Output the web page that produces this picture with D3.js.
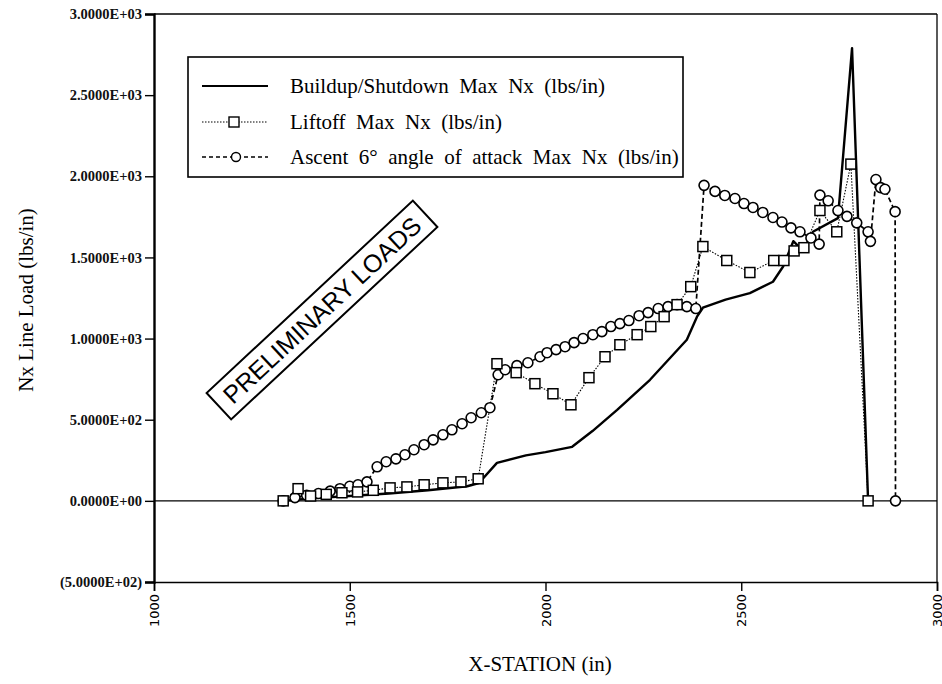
<!DOCTYPE html>
<html>
<head>
<meta charset="utf-8">
<script src="https://cdn.jsdelivr.net/npm/d3@7"></script>
<style>
  body { margin: 0; background: #fff; }
  svg { display: block; }
  .serif { font-family: "Liberation Serif", "DejaVu Serif", serif; }
</style>
</head>
<body>
<svg id="chart" width="942" height="684"></svg>
<script>
// x-station (in) and Nx (lbs/in)
var buildupX = [1330,1400,1500,1600,1700,1800,1830,1876,1950,2000,2068,2120,2183,2267,2361,2387,2402,2460,2522,2581,2607,2633,2658,2683,2747,2783,2824];
var buildupY = [0,15,30,45,65,90,110,234,280,300,333,430,561,746,993,1135,1190,1240,1280,1350,1444,1600,1540,1658,1742,2790,0];

var liftoffX = [1330,1368,1400,1440,1480,1520,1560,1603,1646,1690,1738,1784,1828,1876,1925,1973,2019,2065,2111,2152,2190,2234,2269,2303,2336,2371,2402,2463,2522,2583,2609,2635,2660,2701,2744,2780,2824];
var liftoffY = [0,75,30,40,50,55,65,80,86,99,111,117,136,845,790,722,660,592,759,888,962,1024,1074,1135,1209,1320,1567,1481,1407,1481,1481,1540,1560,1789,1658,2075,0];

var ascentX = [1330,1360,1390,1420,1450,1475,1500,1521,1544,1570,1593,1618,1641,1664,1690,1713,1738,1761,1787,1810,1836,1858,1879,1897,1927,1955,1986,2004,2027,2050,2073,2096,2121,2144,2167,2190,2213,2239,2262,2288,2313,2336,2361,2384,2405,2433,2458,2484,2507,2530,2555,2581,2604,2627,2650,2678,2699,2701,2722,2747,2770,2795,2824,2830,2844,2856,2867,2893,2894];
var ascentY = [0,20,35,45,60,75,90,99,117,210,241,259,284,315,346,376,407,438,475,512,543,574,777,808,833,851,888,913,932,950,975,1000,1024,1043,1074,1092,1111,1141,1160,1185,1197,1209,1197,1185,1944,1907,1882,1863,1832,1808,1777,1746,1718,1682,1658,1620,1582,1884,1849,1789,1753,1713,1658,1599,1980,1930,1920,1782,0];

var yTicks = [3000,2500,2000,1500,1000,500,0,-500];
var yTickLabels = ["3.0000E+03","2.5000E+03","2.0000E+03","1.5000E+03","1.0000E+03","5.0000E+02","0.0000E+00","(5.0000E+02)"];
var xTicks = [1000,1500,2000,2500,3000];

var legendLabels = ["Buildup/Shutdown  Max  Nx  (lbs/in)","Liftoff  Max  Nx  (lbs/in)","Ascent  6\u00b0  angle  of  attack  Max  Nx  (lbs/in)"];

var svg = d3.select("#chart");
var plotL = 154, plotR = 937, plotT = 14, plotB = 582;

var x = d3.scaleLinear().domain([1000,3000]).range([plotL,plotR]);
var y = d3.scaleLinear().domain([-500,3000]).range([plotB,plotT]);

function pts(xs, ys){ return xs.map(function(v,i){ return [v, ys[i]]; }); }
var buildup = pts(buildupX, buildupY);
var liftoff = pts(liftoffX, liftoffY);
var ascent = pts(ascentX, ascentY);

// frame: top and right border
svg.append("line").attr("x1",plotL).attr("x2",plotR).attr("y1",plotT).attr("y2",plotT)
  .attr("stroke","#000").attr("stroke-width",1.3);
svg.append("line").attr("x1",plotR).attr("x2",plotR).attr("y1",plotT).attr("y2",plotB)
  .attr("stroke","#000").attr("stroke-width",1.3);
// zero line
svg.append("line").attr("x1",plotL).attr("x2",plotR).attr("y1",y(0)).attr("y2",y(0))
  .attr("stroke","#000").attr("stroke-width",1.2);

// y axis
var yAxis = d3.axisLeft(y).tickValues(yTicks).tickSize(9).tickPadding(3)
  .tickFormat(function(d,i){ return yTickLabels[i]; });
var gy = svg.append("g").attr("transform","translate("+plotL+",0)").call(yAxis);
gy.select(".domain").attr("stroke-width",2.4);
gy.selectAll(".tick line").attr("stroke-width",1.4);
gy.selectAll("text").attr("class","serif").attr("font-size",14.5).attr("font-weight","bold").attr("fill","#111");

// x axis
var xAxis = d3.axisBottom(x).tickValues(xTicks).tickSize(9).tickFormat(d3.format("d"));
var gx = svg.append("g").attr("transform","translate(0,"+plotB+")").call(xAxis);
gx.select(".domain").attr("stroke-width",1.6);
gx.selectAll(".tick line").attr("stroke-width",1.4);
gx.selectAll("text")
  .attr("transform","rotate(-90)")
  .attr("text-anchor","end")
  .attr("x",-12).attr("y",0).attr("dy","0.35em")
  .attr("font-family","DejaVu Sans, sans-serif").attr("font-size",13);

// axis titles
svg.append("text").attr("class","serif").attr("x",540).attr("y",671)
  .attr("text-anchor","middle").attr("font-size",21).text("X-STATION  (in)");
svg.append("text").attr("class","serif")
  .attr("transform","translate(33,300) rotate(-90)")
  .attr("text-anchor","middle").attr("font-size",21).text("Nx  Line  Load  (lbs/in)");

var line = d3.line().x(function(d){ return x(d[0]); }).y(function(d){ return y(d[1]); });

// series lines
svg.append("path").datum(buildup).attr("d",line).attr("fill","none")
  .attr("stroke","#000").attr("stroke-width",2.4).attr("stroke-linejoin","round");
svg.append("path").datum(liftoff).attr("d",line).attr("fill","none")
  .attr("stroke","#000").attr("stroke-width",1.1).attr("stroke-dasharray","1.5,1.5");
svg.append("path").datum(ascent).attr("d",line).attr("fill","none")
  .attr("stroke","#000").attr("stroke-width",1.7).attr("stroke-dasharray","5,3");

// markers
svg.append("g").selectAll("circle").data(ascent).enter().append("circle")
  .attr("cx",function(d){ return x(d[0]); }).attr("cy",function(d){ return y(d[1]); })
  .attr("r",5).attr("fill","#fff").attr("stroke","#000").attr("stroke-width",1.6);
svg.append("g").selectAll("rect").data(liftoff).enter().append("rect")
  .attr("x",function(d){ return x(d[0]) - 5; }).attr("y",function(d){ return y(d[1]) - 5; })
  .attr("width",10).attr("height",10).attr("fill","#fff").attr("stroke","#000").attr("stroke-width",1.5);

// legend
var lg = svg.append("g");
lg.append("rect").attr("x",188).attr("y",57).attr("width",495).attr("height",120)
  .attr("fill","#fff").attr("stroke","#000").attr("stroke-width",1.6);
var rowY = [86, 122, 157];
lg.append("line").attr("x1",202).attr("x2",268).attr("y1",rowY[0]).attr("y2",rowY[0])
  .attr("stroke","#000").attr("stroke-width",2.2);
lg.append("line").attr("x1",202).attr("x2",268).attr("y1",rowY[1]).attr("y2",rowY[1])
  .attr("stroke","#000").attr("stroke-width",1.1).attr("stroke-dasharray","1.5,1.5");
lg.append("rect").attr("x",229).attr("y",rowY[1]-5).attr("width",10).attr("height",10)
  .attr("fill","#fff").attr("stroke","#000").attr("stroke-width",1.4);
lg.append("line").attr("x1",202).attr("x2",268).attr("y1",rowY[2]).attr("y2",rowY[2])
  .attr("stroke","#000").attr("stroke-width",1.6).attr("stroke-dasharray","4,3");
lg.append("circle").attr("cx",236).attr("cy",rowY[2]).attr("r",4.5)
  .attr("fill","#fff").attr("stroke","#000").attr("stroke-width",1.4);
lg.selectAll("text.lbl").data(legendLabels).enter().append("text")
  .attr("class","serif").attr("x",290).attr("y",function(d,i){ return rowY[i] + 7; })
  .attr("font-size",21).style("white-space","pre")
  .text(function(d){ return d; });

// stamp
var st = svg.append("g").attr("transform","translate(322,310) rotate(-43)");
st.append("rect").attr("x",-141).attr("y",-18).attr("width",282).attr("height",36)
  .attr("fill","#fff").attr("stroke","#000").attr("stroke-width",2);
st.append("text").attr("x",0).attr("y",9).attr("text-anchor","middle")
  .attr("font-family","Liberation Sans, Arial, sans-serif").attr("font-size",25)
  .text("PRELIMINARY LOADS");
</script>
</body>
</html>
